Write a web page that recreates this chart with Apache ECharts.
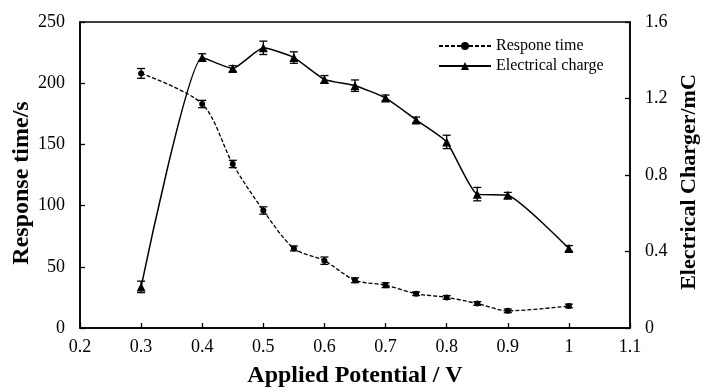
<!DOCTYPE html>
<html><head><meta charset="utf-8">
<script src="https://cdn.jsdelivr.net/npm/echarts@6/dist/echarts.min.js"></script>
<style>html,body{margin:0;padding:0;background:#fff}#c{width:706px;height:392px}</style>
</head><body><div id="c"></div>
<script>
const potential = [0.3, 0.4, 0.45, 0.5, 0.55, 0.6, 0.65, 0.7, 0.75, 0.8, 0.85, 0.9, 1.0];
const responseTime = [208, 183, 134, 96, 65, 55, 39, 35, 28, 25, 20, 14, 18];
const responseErr = [4, 3, 3, 3, 2, 3, 2, 2, 1.5, 1.5, 1.5, 1.5, 1.5];
const charge = [0.215, 1.414, 1.357, 1.465, 1.414, 1.30, 1.267, 1.203, 1.088, 0.973, 0.70, 0.694, 0.416];
const chargeErr = [0.03, 0.02, 0.015, 0.035, 0.03, 0.02, 0.03, 0.015, 0.015, 0.035, 0.035, 0.015, 0.015];
const xTicks = {min: 0.2, max: 1.1, interval: 0.1};
const leftTicks = {min: 0, max: 250, interval: 50};
const rightTicks = {min: 0, max: 1.6, interval: 0.4};

const font = '"Liberation Serif", "Times New Roman", serif';
const chart = echarts.init(document.getElementById('c'));

function errData(vals, errs) {
  return potential.map((x, i) => [x, vals[i] - errs[i], vals[i] + errs[i]]);
}
function errRender(params, api) {
  const x = api.value(0);
  const lo = api.coord([x, api.value(1)]);
  const hi = api.coord([x, api.value(2)]);
  const w = 4;
  const st = {stroke: '#000', lineWidth: 1.3};
  return {type: 'group', children: [
    {type: 'line', shape: {x1: lo[0], y1: lo[1], x2: hi[0], y2: hi[1]}, style: st},
    {type: 'line', shape: {x1: lo[0]-w, y1: lo[1], x2: lo[0]+w, y2: lo[1]}, style: st},
    {type: 'line', shape: {x1: hi[0]-w, y1: hi[1], x2: hi[0]+w, y2: hi[1]}, style: st}
  ]};
}

chart.setOption({
  animation: false,
  backgroundColor: '#fff',
  grid: {left: 80, right: 76, top: 22, bottom: 64, containLabel: false, outerBoundsMode: 'none',
    show: true, borderColor: '#000', borderWidth: 1.5, backgroundColor: 'transparent'},
  legend: {
    left: 438, top: 38, orient: 'vertical', padding: 0, itemGap: 4, itemWidth: 52, itemHeight: 10,
    textStyle: {fontFamily: font, fontSize: 16, color: '#000'},
    data: ['Respone time', 'Electrical charge']
  },
  xAxis: {
    type: 'value', min: xTicks.min, max: xTicks.max, interval: xTicks.interval,
    name: 'Applied Potential / V', nameLocation: 'middle', nameGap: 36, nameMoveOverlap: false,
    nameTextStyle: {fontFamily: font, fontSize: 24, fontWeight: 'bold', color: '#000'},
    axisLine: {lineStyle: {color: '#000', width: 1.5}},
    axisTick: {inside: true, length: 5, lineStyle: {color: '#000', width: 1.3}},
    axisLabel: {fontFamily: font, fontSize: 18, color: '#000', margin: 10},
    splitLine: {show: false}
  },
  yAxis: [{
    type: 'value', min: leftTicks.min, max: leftTicks.max, interval: leftTicks.interval,
    name: 'Response time/s', nameLocation: 'middle', nameGap: 46, nameMoveOverlap: false,
    nameTextStyle: {fontFamily: font, fontSize: 24, fontWeight: 'bold', color: '#000', padding: [0, 16, 0, 0]},
    axisLine: {show: true, lineStyle: {color: '#000', width: 1.5}},
    axisTick: {show: true, inside: true, length: 5, lineStyle: {color: '#000', width: 1.3}},
    axisLabel: {fontFamily: font, fontSize: 18, color: '#000', margin: 15},
    splitLine: {show: false}
  }, {
    type: 'value', min: rightTicks.min, max: rightTicks.max, interval: rightTicks.interval,
    name: 'Electrical Charger/mC', nameLocation: 'middle', nameGap: 48, nameMoveOverlap: false,
    nameTextStyle: {fontFamily: font, fontSize: 22, fontWeight: 'bold', color: '#000', padding: [0, 14, 0, 0]},
    axisLine: {show: true, lineStyle: {color: '#000', width: 1.5}},
    axisTick: {show: true, inside: true, length: 5, lineStyle: {color: '#000', width: 1.3}},
    axisLabel: {fontFamily: font, fontSize: 18, color: '#000', margin: 15},
    splitLine: {show: false}
  }],
  series: [{
    name: 'Respone time', type: 'line', yAxisIndex: 0, smooth: 0.3,
    data: potential.map((x, i) => [x, responseTime[i]]),
    symbol: 'circle', symbolSize: 6,
    itemStyle: {color: '#000'},
    lineStyle: {color: '#000', width: 1.3, type: [4, 2]}
  }, {
    name: 'Electrical charge', type: 'line', yAxisIndex: 1, smooth: 0.17,
    data: potential.map((x, i) => [x, charge[i]]),
    symbol: 'triangle', symbolSize: 9,
    itemStyle: {color: '#000'},
    lineStyle: {color: '#000', width: 1.5}
  }, {
    type: 'custom', yAxisIndex: 0, renderItem: errRender, data: errData(responseTime, responseErr), z: 3
  }, {
    type: 'custom', yAxisIndex: 1, renderItem: errRender, data: errData(charge, chargeErr), z: 3
  }]
});
</script></body></html>
